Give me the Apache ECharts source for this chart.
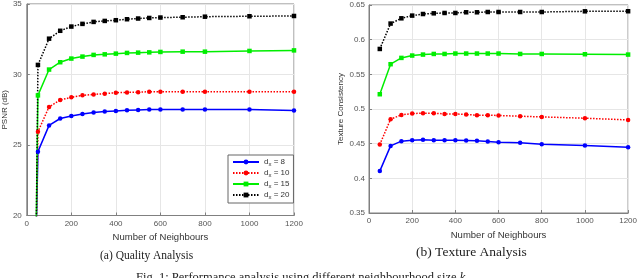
<!DOCTYPE html>
<html>
<head>
<meta charset="utf-8">
<script src="https://cdn.jsdelivr.net/npm/echarts@6/dist/echarts.min.js"></script>
<style>
html,body{margin:0;padding:0;background:#fff;}
#c{width:640px;height:278px;}
</style>
</head>
<body>
<div id="c"></div>
<script>
// ---- data ----
const neighboursA = [40, 50, 100, 150, 200, 250, 300, 350, 400, 450, 500, 550, 600, 700, 800, 1000, 1200];
const psnr8  = [17.0, 24.53, 26.39, 26.88, 27.06, 27.20, 27.30, 27.37, 27.42, 27.46, 27.49, 27.51, 27.51, 27.51, 27.51, 27.51, 27.44];
const psnr10 = [16.1, 25.94, 27.70, 28.19, 28.38, 28.52, 28.59, 28.64, 28.71, 28.73, 28.75, 28.78, 28.78, 28.78, 28.78, 28.78, 28.78];
const psnr15 = [16.4, 28.52, 30.35, 30.87, 31.13, 31.27, 31.39, 31.43, 31.48, 31.53, 31.55, 31.57, 31.60, 31.62, 31.62, 31.67, 31.71];
const psnr20 = [15.4, 30.68, 32.54, 33.10, 33.40, 33.59, 33.73, 33.80, 33.85, 33.92, 33.97, 34.01, 34.04, 34.06, 34.10, 34.13, 34.15];

const neighboursB = [50, 100, 150, 200, 250, 300, 350, 400, 450, 500, 550, 600, 700, 800, 1000, 1200];
const tex8  = [0.4104, 0.4468, 0.4536, 0.4550, 0.4555, 0.4550, 0.4550, 0.4550, 0.4546, 0.4541, 0.4532, 0.4522, 0.4512, 0.4493, 0.4474, 0.4450];
const tex10 = [0.4488, 0.4853, 0.4915, 0.4935, 0.4940, 0.4940, 0.4929, 0.4929, 0.4920, 0.4911, 0.4911, 0.4906, 0.4896, 0.4886, 0.4867, 0.4843];
const tex15 = [0.5213, 0.5646, 0.5737, 0.5771, 0.5785, 0.5794, 0.5794, 0.5800, 0.5800, 0.5800, 0.5800, 0.5800, 0.5794, 0.5794, 0.5790, 0.5785];
const tex20 = [0.5866, 0.6232, 0.6308, 0.6347, 0.6370, 0.6380, 0.6385, 0.6385, 0.6395, 0.6395, 0.6399, 0.6399, 0.6399, 0.6399, 0.6409, 0.6410];

const seriesNames = ['d_x = 8', 'd_x = 10', 'd_x = 15', 'd_x = 20'];
const xTicksMinMax = [0, 1200];
const psnrRange = [20, 35];
const texRange = [0.35, 0.65];
const titleA = 'PSNR (dB)';
const titleB = 'Texture Consistency';
const xTitle = 'Number of Neighbours';
const captionA = '(a) Quality Analysis';
const captionB = '(b) Texture Analysis';

// ---- styles ----
const styles = [
  {color: '#0000ff', type: 'solid', symbol: 'circle'},
  {color: '#ff0000', type: [1.5, 1.5], symbol: 'circle'},
  {color: '#00ee00', type: 'solid', symbol: 'rect'},
  {color: '#000000', type: [1.5, 1.5], symbol: 'rect'}
];

function pairs(xs, ys) { return xs.map((x, i) => [x, ys[i]]); }

function mkSeries(name, xs, ys, st, idx) {
  return {
    name: name, type: 'line', xAxisIndex: idx, yAxisIndex: idx,
    data: pairs(xs, ys), clip: true,
    symbol: st.symbol, symbolSize: 4.5, showSymbol: true,
    lineStyle: {color: st.color, width: 1.5, type: st.type},
    itemStyle: {color: st.color},
    emphasis: {disabled: true}, animation: false
  };
}

const axisCommonX = (gi) => ({
  type: 'value', gridIndex: gi, min: xTicksMinMax[0], max: xTicksMinMax[1], interval: 200,
  name: xTitle, nameLocation: 'middle', nameGap: 14,
  nameTextStyle: {fontFamily: 'Liberation Sans', fontSize: 9.5, color: '#333'},
  axisLine: {show: true, lineStyle: {color: '#808080', width: 1}},
  axisTick: {show: true, inside: true, length: 3, lineStyle: {color: '#808080'}},
  axisLabel: {fontFamily: 'Liberation Sans', fontSize: 8, color: '#555', margin: 4, formatter: v => String(v)},
  splitLine: {show: true, lineStyle: {color: '#e6e6e6', width: 1}}
});

const series = [];
[psnr8, psnr10, psnr15, psnr20].forEach((ys, i) => series.push(mkSeries(seriesNames[i], neighboursA, ys, styles[i], 0)));
[tex8, tex10, tex15, tex20].forEach((ys, i) => series.push(mkSeries(seriesNames[i], neighboursB, ys, styles[i], 1)));

const chart = echarts.init(document.getElementById('c'), null, {renderer: 'canvas'});
chart.setOption({
  animation: false,
  backgroundColor: '#fff',
  grid: [
    {left: 25, top: 3, width: 269, height: 212.5, show: true, borderColor: '#808080', borderWidth: 1, containLabel: false},
    {left: 369, top: 5, width: 263, height: 208, show: true, borderColor: '#808080', borderWidth: 1, containLabel: false}
  ],
  xAxis: [axisCommonX(0), axisCommonX(1)],
  yAxis: [
    {type: 'value', gridIndex: 0, min: psnrRange[0], max: psnrRange[1], interval: 5,
     name: titleA, nameLocation: 'middle', nameGap: 15,
     nameTextStyle: {fontFamily: 'Liberation Sans', fontSize: 8, color: '#333'},
     axisLine: {show: true, lineStyle: {color: '#808080'}},
     axisTick: {show: true, inside: true, length: 3, lineStyle: {color: '#808080'}},
     axisLabel: {fontFamily: 'Liberation Sans', fontSize: 8, color: '#555', margin: 5},
     splitLine: {show: true, lineStyle: {color: '#e6e6e6'}}},
    {type: 'value', gridIndex: 1, min: texRange[0], max: texRange[1], interval: 0.05,
     name: titleB, nameLocation: 'middle', nameGap: 24,
     nameTextStyle: {fontFamily: 'Liberation Sans', fontSize: 8, color: '#333'},
     axisLine: {show: true, lineStyle: {color: '#808080'}},
     axisTick: {show: true, inside: true, length: 3, lineStyle: {color: '#808080'}},
     axisLabel: {fontFamily: 'Liberation Sans', fontSize: 8, color: '#555', margin: 4},
     splitLine: {show: true, lineStyle: {color: '#e6e6e6'}}}
  ],
  legend: {
    data: seriesNames, orient: 'vertical', left: 228, top: 155,
    padding: [3, 4, 3, 4], itemGap: 2, itemWidth: 26, itemHeight: 6, itemTextGap: 3,
    borderColor: '#666', borderWidth: 1, backgroundColor: '#fff', selectedMode: false,
    formatter: function (name) {
      const rest = name.replace('d_x', '');
      return '{d|d}{s|x}{d|' + rest + '}';
    },
    textStyle: {
      fontFamily: 'Liberation Sans', fontSize: 8, color: '#333',
      rich: {
        d: {fontFamily: 'Liberation Sans', fontSize: 8, color: '#333', lineHeight: 10, verticalAlign: 'middle'},
        s: {fontFamily: 'Liberation Sans', fontSize: 6, color: '#333', lineHeight: 5, verticalAlign: 'bottom'}
      }
    }
  },
  graphic: [
    {type: 'text', left: 100, top: 250, style: {text: captionA, font: '11.5px "Liberation Serif"', fill: '#222'}},
    {type: 'text', left: 416, top: 245, style: {text: captionB, font: '13.5px "Liberation Serif"', fill: '#222'}},
    {type: 'text', left: 136, top: 271, style: {
      text: '{n|Fig. 1: Performance analysis using different neighbourhood size }{i|k}',
      rich: {n: {font: '12.5px "Liberation Serif"', fill: '#222'}, i: {font: 'italic 12.5px "Liberation Serif"', fill: '#222'}}
    }}
  ],
  series: series
});
</script>
</body>
</html>
